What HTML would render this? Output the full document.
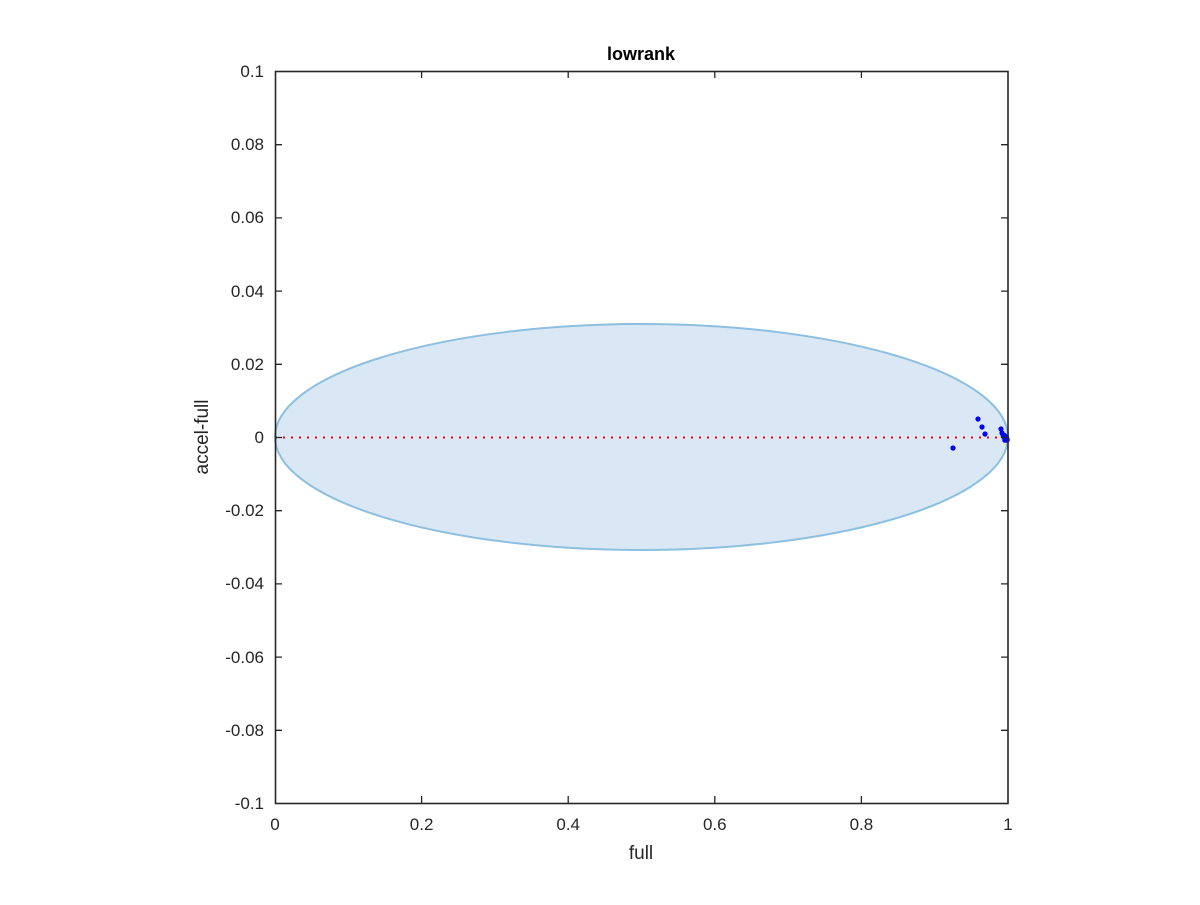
<!DOCTYPE html>
<html><head><style>body{margin:0;background:#fff}</style></head><body>
<svg width="1200" height="900" xmlns="http://www.w3.org/2000/svg" font-family="Liberation Sans, sans-serif">
<rect width="1200" height="900" fill="#fff"/>
<ellipse cx="641.5" cy="437" rx="366.5" ry="113" fill="#d9e8f4" stroke="#8cbfe0" stroke-width="2"/>
<line x1="275" y1="437.5" x2="1008" y2="437.5" stroke="#f00" stroke-width="2" stroke-dasharray="2,6"/>
<g fill="#0000ff">
<circle cx="978" cy="419" r="2.6"/><circle cx="982" cy="427" r="2.6"/><circle cx="985" cy="434" r="2.6"/>
<circle cx="953" cy="448" r="2.6"/><circle cx="1001" cy="429" r="2.6"/><circle cx="1002" cy="433" r="2.6"/>
<circle cx="1004" cy="436" r="3.3"/><circle cx="1006" cy="438" r="3.3"/><circle cx="1007" cy="440" r="2.8"/><circle cx="1005" cy="440" r="2.8"/>
</g>
<rect x="275.5" y="71.5" width="732.5" height="732" fill="none" stroke="#262626" stroke-width="1.6"/>
<g stroke="#262626" stroke-width="1.3">
<path d="M275,144.7h7M275,217.9h7M275,291.1h7M275,364.3h7M275,437.5h7M275,510.7h7M275,583.9h7M275,657.1h7M275,730.3h7"/>
<path d="M1008,144.7h-7M1008,217.9h-7M1008,291.1h-7M1008,364.3h-7M1008,437.5h-7M1008,510.7h-7M1008,583.9h-7M1008,657.1h-7M1008,730.3h-7"/>
<path d="M421.6,803v-7M568.2,803v-7M714.8,803v-7M861.4,803v-7M421.6,71v7M568.2,71v7M714.8,71v7M861.4,71v7"/>
</g>
<g font-size="17" fill="#262626" text-anchor="end">
<text x="264" y="77">0.1</text><text x="264" y="150">0.08</text><text x="264" y="223">0.06</text>
<text x="264" y="297">0.04</text><text x="264" y="370">0.02</text><text x="264" y="443">0</text>
<text x="264" y="516">-0.02</text><text x="264" y="589">-0.04</text><text x="264" y="663">-0.06</text>
<text x="264" y="736">-0.08</text><text x="264" y="809">-0.1</text>
</g>
<g font-size="17" fill="#262626" text-anchor="middle">
<text x="275" y="830">0</text><text x="421.6" y="830">0.2</text><text x="568.2" y="830">0.4</text>
<text x="714.8" y="830">0.6</text><text x="861.4" y="830">0.8</text><text x="1008" y="830">1</text>
<text x="641" y="859" font-size="19">full</text>
<text x="641" y="60" font-size="18" font-weight="bold" fill="#000">lowrank</text>
<text transform="translate(208,437) rotate(-90)" font-size="19">accel-full</text>
</g>
</svg>
</body></html>
